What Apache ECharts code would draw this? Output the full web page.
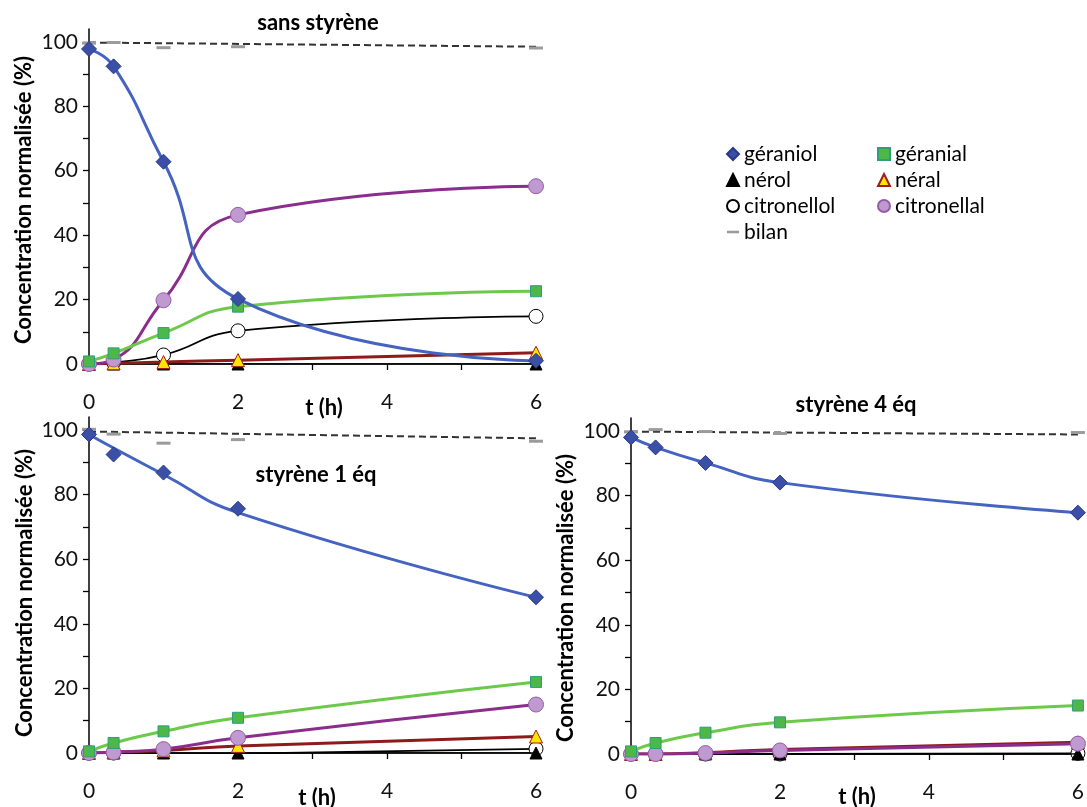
<!DOCTYPE html>
<html><head><meta charset="utf-8">
<script src="https://cdn.jsdelivr.net/npm/echarts@6/dist/echarts.min.js"></script>
<style>html,body{margin:0;padding:0;background:#fff}#c{width:1087px;height:807px}</style>
</head><body><div id="c"></div>
<script>
// time points (h)
const hours = [0, 0.33, 1, 2, 6];
const xTickValues = [0, 1, 2, 3, 4, 5, 6];
const xLabelValues = [0, 2, 4, 6];
const yTickValues = [0, 10, 20, 30, 40, 50, 60, 70, 80, 90, 100];
const yLabelValues = [0, 20, 40, 60, 80, 100];
const panelTitles = ['sans styrène', 'styrène 1 éq', 'styrène 4 éq'];

// panel A : sans styrène
const geraniolA    = [97.8, 92.4, 62.8, 20.2, 1.0];
const geranialA    = [0.8, 3.3, 9.6, 17.8, 22.6];
const nerolA       = [0, 0, 0, 0, 0];
const neralA       = [0, 0.2, 0.6, 1.2, 3.5];
const citronellolA = [0, 0.5, 2.8, 10.3, 14.8];
const citronellalA = [0, 1.4, 19.8, 46.3, 55.2];
const bilanA       = [99.6, 99.8, 98.2, 98.5, 98.1];
const bilanTrendA  = [99.8, 98.5];

// panel B : styrène 1 éq
const geraniolB      = [98.6, 92.4, 86.8, 75.6, 48.2];
const geraniolCurveB = [98.6, 94.4, 86.2, 74.4, 48.2];   // fitted curve drawn through the markers
const geranialB      = [0.5, 3.1, 6.7, 10.9, 22.0];
const nerolB         = [0, 0, 0, 0, 0];
const neralB         = [0, 0.2, 0.8, 2.2, 5.1];
const citronellolB   = [0, 0, -0.4, -0.2, 1.3];
const citronellalB   = [0, 0.2, 1.2, 4.7, 15.0];
const bilanB         = [100.2, 98.7, 95.9, 97.0, 96.5];
const bilanTrendB    = [99.5, 97.4];

// panel C : styrène 4 éq
const geraniolC    = [98.0, 94.9, 90.1, 84.0, 74.7];
const geranialC    = [0.8, 3.4, 6.6, 9.8, 15.0];
const nerolC       = [0, 0, 0, 0, 0];
const neralC       = [0, 0, 0.4, 1.4, 3.6];
const citronellolC = [0, 0, 0, 0, 0.2];
const citronellalC = [0, 0, 0.3, 1.1, 3.2];
const bilanC       = [99.7, 100.4, 99.8, 99.2, 99.5];
const bilanTrendC  = [99.8, 98.9];
const trendHours   = [0, 6];

const FONT = 'Lato';
const panels = [
  {g: geraniolA, gc: geraniolA, ge: geranialA, no: nerolA, ne: neralA, co: citronellolA, ca: citronellalA, b: bilanA, bt: bilanTrendA},
  {g: geraniolB, gc: geraniolCurveB, ge: geranialB, no: nerolB, ne: neralB, co: citronellolB, ca: citronellalB, b: bilanB, bt: bilanTrendB},
  {g: geraniolC, gc: geraniolC, ge: geranialC, no: nerolC, ne: neralC, co: citronellolC, ca: citronellalC, b: bilanC, bt: bilanTrendC}
];

const grids = [
  {left: 89, right: 551, top: 29, bottom: 443},
  {left: 89, right: 551, top: 417, bottom: 54},
  {left: 631, right: 9, top: 418, bottom: 53}
];

const pair = (xs, ys) => xs.map((x, i) => [x, ys[i]]);
const dashPath = 'path://M0,0H14V3H0Z';

const styles = {
  'géraniol':    {line: '#4563C0', lw: 3, symbol: 'diamond', size: 15, fill: '#3B4FA6', border: '#283A8A'},
  'géranial':    {line: '#6CC94A', lw: 3, symbol: 'rect', size: 11, fill: '#4DB848', border: '#2F9C80'},
  'nérol':       {line: '#000000', lw: 1.5, symbol: 'triangle', size: 12, fill: '#000000', border: '#000000'},
  'néral':       {line: '#8E1B1B', lw: 3, symbol: 'triangle', size: 13, fill: '#FFE600', border: '#A01C1C'},
  'citronellol': {line: '#000000', lw: 1.8, symbol: 'circle', size: 14, fill: '#FFFFFF', border: '#000000'},
  'citronellal': {line: '#8A2D8C', lw: 3, symbol: 'circle', size: 15, fill: '#BE9AD0', border: '#985BA8'}
};

function lineSeries(name, ys, gi, z) {
  const s = styles[name];
  return {
    type: 'line', name: name, xAxisIndex: gi, yAxisIndex: gi,
    data: pair(hours, ys), smooth: 0.5, z: z,
    symbol: s.symbol, symbolSize: s.size, showAllSymbol: true,
    lineStyle: {color: s.line, width: s.lw},
    itemStyle: {color: s.fill, borderColor: s.border, borderWidth: 1, opacity: 1},
    animation: false
  };
}

const series = [];
panels.forEach((p, gi) => {
  series.push({
    type: 'line', name: 'bilanTrend', xAxisIndex: gi, yAxisIndex: gi,
    data: pair(trendHours, p.bt), symbol: 'none', z: 1,
    lineStyle: {color: '#333333', width: 2, type: [7, 4]}, animation: false
  });
  series.push({
    type: 'scatter', name: 'bilan', xAxisIndex: gi, yAxisIndex: gi,
    data: pair(hours, p.b), symbol: dashPath, symbolSize: [14, 3], z: 2,
    itemStyle: {color: '#9B9B9B', opacity: 1}, animation: false
  });
  series.push(lineSeries('citronellol', p.co, gi, 3));
  series.push(lineSeries('nérol', p.no, gi, 4));
  series.push(lineSeries('néral', p.ne, gi, 5));
  series.push(lineSeries('citronellal', p.ca, gi, 6));
  series.push(lineSeries('géranial', p.ge, gi, 7));
  if (p.gc !== p.g) {
    const s = styles['géraniol'];
    series.push({
      type: 'line', name: 'géraniolCurve', xAxisIndex: gi, yAxisIndex: gi,
      data: pair(hours, p.gc), smooth: 0.5, symbol: 'none', z: 8,
      lineStyle: {color: s.line, width: s.lw}, animation: false
    });
    series.push({
      type: 'scatter', name: 'géraniol', xAxisIndex: gi, yAxisIndex: gi,
      data: pair(hours, p.g), symbol: s.symbol, symbolSize: s.size, z: 9,
      itemStyle: {color: s.fill, borderColor: s.border, borderWidth: 1, opacity: 1}, animation: false
    });
  } else {
    series.push(lineSeries('géraniol', p.g, gi, 8));
  }
});

const xAxes = grids.map((g, i) => ({
  type: 'value', gridIndex: i, min: 0, max: 6,
  axisLine: {lineStyle: {color: '#000', width: 1.5}},
  axisTick: {show: true, length: 6, inside: false, customValues: xTickValues, lineStyle: {color: '#000', width: 1.3}},
  axisLabel: {customValues: xLabelValues, margin: 28, fontFamily: FONT, fontSize: 21, color: '#111'},
  splitLine: {show: false}
}));
const yAxes = grids.map((g, i) => ({
  type: 'value', gridIndex: i, min: 0, max: 104,
  axisLine: {show: true, lineStyle: {color: '#000', width: 1.5}},
  axisTick: {show: true, length: 6, inside: false, customValues: yTickValues, lineStyle: {color: '#000', width: 1.3}},
  axisLabel: {customValues: yLabelValues, margin: 11, fontFamily: FONT, fontSize: 21, color: '#111'},
  splitLine: {show: false}
}));

const boldText = (txt, x, y, size, rot) => ({
  type: 'text', x: x, y: y, rotation: rot || 0, z: 100,
  style: {text: txt, fontFamily: FONT, fontWeight: 'bold', fontSize: size, fill: '#000', textAlign: 'center', textVerticalAlign: 'middle'}
});
const yName = 'Concentration normalisée (%)';
const graphic = [
  boldText(panelTitles[0], 318, 23, 22),
  boldText(panelTitles[1], 316, 475, 22),
  boldText(panelTitles[2], 856, 405, 22),
  boldText('t (h)', 324, 408, 22),
  boldText('t (h)', 317, 798, 22),
  boldText('t (h)', 857, 797, 22),
  boldText(yName, 24, 200, 22, Math.PI / 2),
  boldText(yName, 25, 593, 22, Math.PI / 2),
  boldText(yName, 566, 598, 22, Math.PI / 2)
];

const legendCommon = {
  orient: 'vertical', itemWidth: 12, itemHeight: 12, itemGap: 4,
  textStyle: {fontFamily: FONT, fontSize: 21, color: '#000', lineHeight: 22},
  selectedMode: false, padding: 0
};
const legendIcon = n => n === 'bilan' ? dashPath : (n === 'géraniol' ? 'diamond' : (n === 'géranial' ? 'rect' : (n === 'nérol' || n === 'néral' ? 'triangle' : 'circle')));
const legends = [
  Object.assign({left: 726, top: 143, data: ['géraniol', 'nérol', 'citronellol', 'bilan'].map(n => ({name: n, icon: legendIcon(n)}))}, legendCommon),
  Object.assign({left: 877, top: 143, data: ['géranial', 'néral', 'citronellal'].map(n => ({name: n, icon: legendIcon(n)}))}, legendCommon)
];

const chart = echarts.init(document.getElementById('c'), null, {renderer: 'canvas'});
chart.setOption({
  animation: false,
  backgroundColor: '#fff',
  grid: grids,
  xAxis: xAxes,
  yAxis: yAxes,
  legend: legends,
  graphic: graphic,
  series: series
});
</script></body></html>
